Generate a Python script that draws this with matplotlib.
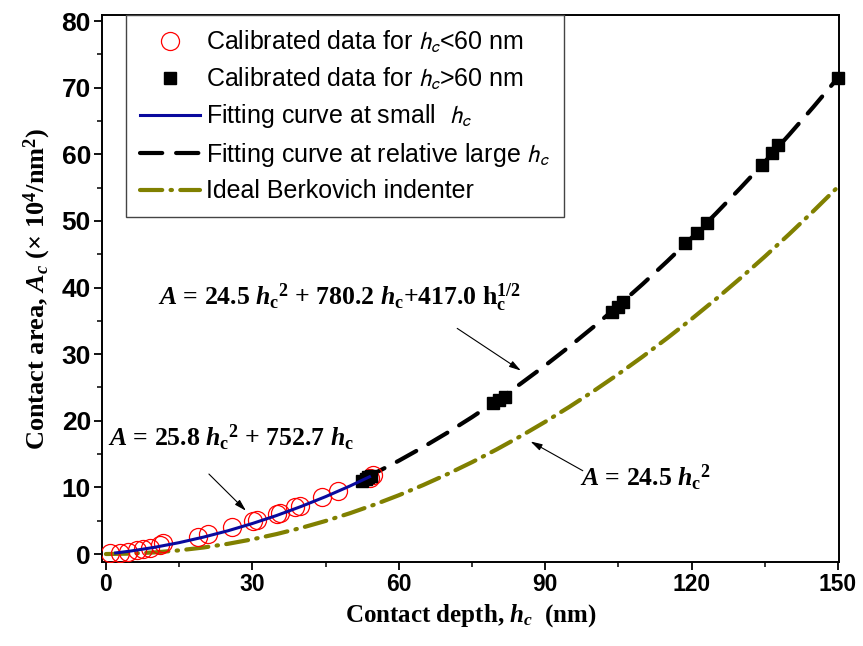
import matplotlib
matplotlib.use("Agg")
import matplotlib.pyplot as plt
from matplotlib.font_manager import FontProperties
from matplotlib.ticker import MultipleLocator

# calibrated data, h_c < 60 nm (nm, x10^4 nm^2)
small_h = [0.8, 2.9, 4.5, 6.3, 7.6, 9.0, 11.1, 11.7, 18.9, 20.9, 25.8, 30.2, 30.9,
           35.0, 35.6, 38.7, 39.8, 44.3, 47.5, 54.1, 54.7]
small_A = [0.1, 0.15, 0.3, 0.6, 0.75, 0.9, 1.35, 1.6, 2.6, 3.0, 4.05, 5.0, 5.1,
           6.0, 6.2, 7.0, 7.2, 8.55, 9.5, 11.4, 11.9]

# calibrated data, h_c > 60 nm
large_h = [52.5, 53.2, 53.8, 54.3, 79.3, 80.5, 81.8, 103.7, 104.9, 105.9,
           118.6, 121.1, 123.1, 134.4, 136.5, 137.7, 150.0]
large_A = [11.0, 11.3, 11.5, 11.7, 22.6, 23.1, 23.6, 36.3, 37.1, 37.8,
           46.7, 48.2, 49.7, 58.4, 60.2, 61.4, 71.5]

# fitting curve at small h_c
fit_small_h = [2, 5, 10, 15, 20, 25, 30, 35, 40, 45, 50, 54]
fit_small_A = [0.16, 0.44, 1.01, 1.71, 2.54, 3.49, 4.58, 5.79, 7.14, 8.61, 10.21, 11.59]

# fitting curve at relatively large h_c
fit_large_h = [53, 55, 60, 65, 70, 75, 80, 85, 90, 95, 100, 105, 110, 115, 120,
               125, 130, 135, 140, 145, 150]
fit_large_A = [11.4, 12.10, 14.00, 16.05, 18.23, 20.54, 23.00, 25.58, 28.30, 31.16,
               34.15, 37.28, 40.54, 43.94, 47.46, 51.13, 54.94, 58.87, 62.95, 67.15, 71.50]

# ideal Berkovich indenter
berk_h = [0, 5, 10, 15, 20, 25, 30, 35, 40, 45, 50, 55, 60, 65, 70, 75, 80, 85, 90,
          95, 100, 105, 110, 115, 120, 125, 130, 135, 140, 145, 150]
berk_A = [0, 0.061, 0.245, 0.551, 0.98, 1.531, 2.205, 3.001, 3.92, 4.961, 6.125,
          7.411, 8.82, 10.351, 12.005, 13.781, 15.68, 17.701, 19.845, 22.111, 24.5,
          27.011, 29.645, 32.401, 35.28, 38.281, 41.405, 44.651, 48.02, 51.511, 55.125]

plt.rcParams["mathtext.fontset"] = "custom"
plt.rcParams["mathtext.rm"] = "Liberation Serif:bold"
plt.rcParams["mathtext.it"] = "Liberation Serif:italic:bold"
plt.rcParams["mathtext.bf"] = "Liberation Serif:bold"
plt.rcParams["lines.scale_dashes"] = False

fig = plt.figure(figsize=(8.63, 6.46), dpi=100)
ax = fig.add_axes([0.1182, 0.130, 0.854, 0.8467])

ax.plot(small_h, small_A, "o", ms=13, mfc="none", mec="red", mew=0.9,
        label=r"Calibrated data for $h_c$<60 nm", zorder=3)
ax.plot(large_h, large_A, "s", ms=9, color="black",
        label=r"Calibrated data for $h_c$>60 nm", zorder=4, clip_on=False)
ax.plot(fit_small_h, fit_small_A, "-", color="#0a0a9e", lw=2.2,
        label=r"Fitting curve at small  $h_c$", zorder=5)
ax.plot(fit_large_h, fit_large_A, color="black", lw=3, dashes=(16, 10),
        dash_capstyle="round", label=r"Fitting curve at relative large $h_c$", zorder=2)
ax.plot(berk_h, berk_A, color="#808000", lw=3, dashes=(16, 6, 1, 6),
        dash_capstyle="round", label="Ideal Berkovich indenter", zorder=2)

ax.set_xlim(-0.8, 150.2)
ax.set_ylim(-1.2, 80.9)
ax.xaxis.set_major_locator(MultipleLocator(30))
ax.xaxis.set_minor_locator(MultipleLocator(15))
ax.yaxis.set_major_locator(MultipleLocator(10))
ax.yaxis.set_minor_locator(MultipleLocator(5))
ax.tick_params(which="major", direction="out", length=6, width=1.3, pad=2)
ax.tick_params(which="minor", direction="out", length=3.5, width=1.1)
for lab in ax.get_yticklabels():
    lab.set_fontfamily("Liberation Sans")
    lab.set_fontweight("bold")
    lab.set_fontsize(19)
for lab in ax.get_xticklabels():
    lab.set_fontfamily("Liberation Sans")
    lab.set_fontweight("bold")
    lab.set_fontsize(16.5)
for sp in ax.spines.values():
    sp.set_linewidth(1.4)

ax.set_xlabel(r"Contact depth, $h_c$  (nm)", family="Liberation Serif",
              fontweight="bold", fontsize=18, labelpad=4)
ax.set_ylabel(r"Contact area, $A_c$ (× 10$^4$/nm$^2$)", family="Liberation Serif",
              fontweight="bold", fontsize=19, labelpad=6)

leg_font = FontProperties(family="Liberation Sans", size=18, math_fontfamily="stixsans")
leg = ax.legend(loc="upper left", bbox_to_anchor=(0.0326, 1.0), borderaxespad=0,
                prop=leg_font, fancybox=False, framealpha=1, edgecolor="#444444",
                handlelength=2.4, handletextpad=0.25, labelspacing=0.42, borderpad=0.55)
leg.get_frame().set_linewidth(1.0)

txt = dict(family="Liberation Serif", fontweight="bold", fontsize=18.5,
           ha="left", va="baseline")
ax.text(0.4, 16.1, r"$A$ = 25.8 $h_{\mathrm{c}}{}^{2}$ + 752.7 $h_{\mathrm{c}}$", **txt)
ax.text(10.7, 37.4,
        r"$A$ = 24.5 $h_{\mathrm{c}}{}^{2}$ + 780.2 $h_{\mathrm{c}}$+417.0 $\mathrm{h}_{\mathrm{c}}^{1/2}$",
        **txt)
ax.text(97.1, 10.1, r"$A$ = 24.5 $h_{\mathrm{c}}{}^{2}$", **txt)

arrow = dict(arrowstyle="-|>,head_length=0.7,head_width=0.2", lw=0.8, color="black")
ax.annotate("", xy=(29.1, 6.2), xytext=(20.7, 12.3), arrowprops=arrow)
ax.annotate("", xy=(85.5, 27.3), xytext=(71.5, 34.1), arrowprops=arrow)
ax.annotate("", xy=(86.5, 17.1), xytext=(98.2, 12.3), arrowprops=arrow)

fig.savefig("out.png", dpi=100)
